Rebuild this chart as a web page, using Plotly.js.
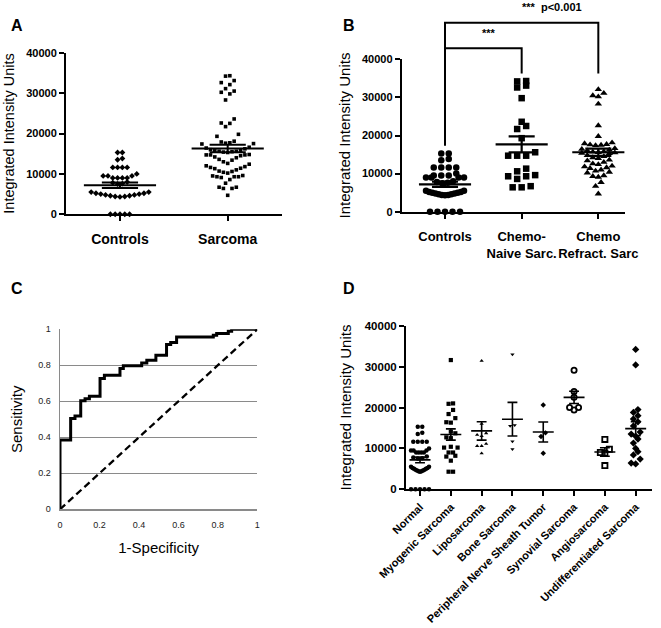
<!DOCTYPE html>
<html><head><meta charset="utf-8">
<script src="https://cdn.plot.ly/plotly-3.0.1.min.js"></script>
<style>html,body{margin:0;padding:0;background:#fff}</style>
</head><body>
<div id="chart" style="width:661px;height:628px"></div>
<script>
// ---------------- DATA ----------------
const groupLabelsA = ['Controls', 'Sarcoma'];
const groupLabelsB = ['Controls', 'Chemo-<br>Naive Sarc.', 'Chemo<br>Refract. Sarc'];
const subtypeLabels = ['Normal', 'Myogenic Sarcoma', 'Liposarcoma', 'Bone Sarcoma',
  'Peripheral Nerve Sheath Tumor', 'Synovial Sarcoma', 'Angiosarcoma', 'Undifferentiated Sarcoma'];

const controls = [15300, 15300, 13800, 13500, 11600, 11600, 11600, 11600, 10000, 9500, 9500, 9500,
  9000, 9000, 9000, 9000, 8000, 7800, 7600, 7500, 5500, 5500, 5200, 5200, 5000, 5000, 4800, 4800,
  4600, 4600, 4400, 4400, 4300, 0, 0, 0, 0, 0];
const chemoNaive = [34300, 34200, 33100, 32600, 29800, 23600, 22500, 21700, 19300, 15600, 14700,
  14700, 14700, 11300, 10600, 9600, 9300, 9300, 8600, 6700, 6400, 6400];
const chemoRefract = [32100, 31100, 30500, 30200, 28300, 22600, 19800, 18100, 17900, 17700, 17600,
  17500, 17400, 16600, 16400, 16200, 16000, 15800, 15700, 15600, 15500, 15400, 15300, 14800, 14500,
  14200, 14000, 13600, 13400, 13000, 12600, 12400, 12000, 11800, 11600, 11400, 11000, 10700, 10400,
  10200, 9500, 9300, 9100, 7700, 6700, 4700];
const sarcoma = chemoNaive.concat(chemoRefract);

const myogenic = [31600, 21000, 20900, 19400, 18400, 17400, 16400, 16300, 14100, 13700, 12700, 12500,
  10400, 10200, 10200, 9000, 9000, 8200, 8000, 7000, 4300, 4300];
const liposarcoma = [31400, 16000, 13700, 13300, 13000, 11100, 10600, 10600, 8800];
const boneSarcoma = [33000, 15700, 15500, 11700, 9800];
const pnst = [20600, 13800, 12900, 8800];
const synovial = [29100, 23900, 22500, 20000, 20000, 19400];
const angiosarcoma = [12200, 9800, 9000, 8800, 5800];
const undifferentiated = [34200, 30400, 19500, 18800, 18000, 17200, 16500, 15500, 14000, 13500, 13000,
  12300, 11300, 10000, 9200, 8400, 7400, 6400, 6200];

const fpr = [0, 0, 0.054, 0.076, 0.105, 0.127, 0.149, 0.203, 0.225, 0.304, 0.321, 0.414, 0.44, 0.486,
  0.54, 0.561, 0.591, 0.777, 0.794, 0.853, 0.87, 1];
const tpr = [0, 0.385, 0.505, 0.518, 0.603, 0.614, 0.628, 0.727, 0.745, 0.782, 0.797, 0.813, 0.828,
  0.856, 0.915, 0.926, 0.957, 0.967, 0.976, 0.989, 1, 1];
const chanceX = [0, 1];
const chanceY = [0, 1];

const yTicks = [0, 10000, 20000, 30000, 40000];
const rocTicks = [0, 0.2, 0.4, 0.6, 0.8, 1];

// ---------------- LAYOUT GEOMETRY ----------------
const W = 661, H = 628;
const F = 'Liberation Sans, Arial, Helvetica, sans-serif';
const px = v => v / W;
const py = v => 1 - v / H;

const dom = {
  A: {x: [px(66), px(282)], y: [py(214.3), py(52.7)], xr: [-0.501, 1.504]},
  B: {x: [px(401.7), px(625)], y: [py(211.7), py(59.3)], xr: [-0.565, 2.348]},
  C: {x: [px(60), px(257.3)], y: [py(509.3), py(329.3)]},
  D: {x: [px(406), px(651.7)], y: [py(489.3), py(325.7)], xr: [-0.455, 7.52]}
};
const yMax = 40000;

function scales(d) {
  return {
    xPerPx: (d.xr[1] - d.xr[0]) / ((d.x[1] - d.x[0]) * W),
    yPerPx: yMax / ((d.y[1] - d.y[0]) * H)
  };
}

// Column scatter layout: bin values into rows, spread each row from the centre outwards
function swarm(vals, center, sc, binPx, stepPx, maxHalfPx) {
  const order = vals.map((v, i) => i).sort((a, b) => vals[a] - vals[b]);
  const xs = new Array(vals.length);
  let row = [], start = null;
  const flush = () => {
    const n = row.length;
    if (!n) return;
    let step = stepPx;
    if ((n - 1) * step / 2 > maxHalfPx) step = 2 * maxHalfPx / (n - 1);
    row.forEach((k, j) => {
      let slot;
      if (n % 2) slot = j === 0 ? 0 : (j % 2 ? -1 : 1) * Math.ceil(j / 2);
      else slot = (j % 2 ? 1 : -1) * (Math.floor(j / 2) + 0.5);
      xs[k] = center + slot * step * sc.xPerPx;
    });
    row = [];
  };
  order.forEach(k => {
    if (start === null || vals[k] - start > binPx * sc.yPerPx) { flush(); start = vals[k]; }
    row.push(k);
  });
  flush();
  return xs;
}

function meanSem(v) {
  const n = v.length;
  const m = v.reduce((a, b) => a + b, 0) / n;
  const sd = Math.sqrt(v.reduce((a, b) => a + (b - m) * (b - m), 0) / (n - 1));
  return [m, sd / Math.sqrt(n)];
}

function summaryTrace(groups, xa, ya, halfMean, halfCap, width) {
  const x = [], y = [];
  groups.forEach((g, i) => {
    const [m, s] = meanSem(g);
    x.push(i - halfMean, i + halfMean, null, i, i, null, i - halfCap, i + halfCap, null, i - halfCap, i + halfCap, null);
    y.push(m, m, null, m - s, m + s, null, m + s, m + s, null, m - s, m - s, null);
  });
  return {type: 'scatter', mode: 'lines', x, y, xaxis: xa, yaxis: ya,
    line: {color: '#000', width}, hoverinfo: 'skip', showlegend: false};
}

function dots(vals, center, sc, xa, ya, marker, binPx, stepPx, maxHalfPx) {
  return {type: 'scatter', mode: 'markers', x: swarm(vals, center, sc, binPx, stepPx, maxHalfPx), y: vals,
    xaxis: xa, yaxis: ya, marker, cliponaxis: false, hoverinfo: 'skip', showlegend: false};
}

const scA = scales(dom.A), scB = scales(dom.B), scD = scales(dom.D);
const traces = [];

// Panel A
traces.push(dots(controls, 0, scA, 'x', 'y', {symbol: 'diamond', size: 4.5, color: '#000'}, 6, 4.8, 32));
traces.push(dots(sarcoma, 1, scA, 'x', 'y', {symbol: 'square', size: 3.6, color: '#000'}, 9, 4.3, 32));
traces.push(summaryTrace([controls, sarcoma], 'x', 'y', 0.335, 0.168, 2));

// Panel B
traces.push(dots(controls, 0, scB, 'x2', 'y2', {symbol: 'circle', size: 6.5, color: '#000'}, 6, 7.5, 19));
traces.push(dots(chemoNaive, 1, scB, 'x2', 'y2', {symbol: 'square', size: 6.5, color: '#000'}, 6, 9, 19));
traces.push(dots(chemoRefract, 2, scB, 'x2', 'y2', {symbol: 'triangle-up', size: 6.5, color: '#000'}, 6, 5.5, 21));
traces.push(summaryTrace([controls, chemoNaive, chemoRefract], 'x2', 'y2', 0.34, 0.17, 2.2));

// Panel B significance brackets (overlay axis y5 extends B's value scale upwards)
const legLow = 36300, innerLevel = 42900, outerLevel = 49600;
const ctrlLeg = Math.max(...controls) + 2000;
traces.push({type: 'scatter', mode: 'lines', xaxis: 'x2', yaxis: 'y5',
  x: [0, 0, 2, 2, null, 0, 1, 1],
  y: [ctrlLeg, outerLevel, outerLevel, legLow, null, innerLevel, innerLevel, legLow],
  line: {color: '#000', width: 2}, hoverinfo: 'skip', showlegend: false});

// Panel C
traces.push({type: 'scatter', mode: 'lines', x: chanceX, y: chanceY, xaxis: 'x3', yaxis: 'y3',
  line: {color: '#000', width: 2.3, dash: '7px,4px'}, hoverinfo: 'skip', showlegend: false});
traces.push({type: 'scatter', mode: 'lines', x: fpr, y: tpr, xaxis: 'x3', yaxis: 'y3',
  line: {color: '#000', width: 3, shape: 'hv'}, hoverinfo: 'skip', showlegend: false});

// Panel D
const dGroups = [controls, myogenic, liposarcoma, boneSarcoma, pnst, synovial, angiosarcoma, undifferentiated];
const dMarkers = [
  {symbol: 'circle', size: 4.5, color: '#000'},
  {symbol: 'square', size: 4.2, color: '#000'},
  {symbol: 'triangle-up', size: 3.8, color: '#000'},
  {symbol: 'triangle-down', size: 3.8, color: '#000'},
  {symbol: 'diamond', size: 4.2, color: '#000'},
  {symbol: 'circle-open', size: 5.2, color: '#000', line: {width: 1.8, color: '#000'}},
  {symbol: 'square-open', size: 5.2, color: '#000', line: {width: 1.8, color: '#000'}},
  {symbol: 'diamond', size: 5.6, color: '#000'}
];
dGroups.forEach((g, i) => traces.push(dots(g, i, scD, 'x4', 'y4', dMarkers[i], 5, 4.5, 9)));
traces.push(summaryTrace(dGroups, 'x4', 'y4', 0.34, 0.16, 1.6));

// ---------------- AXES ----------------
function valueAxis(d, anchor, tickSize, titleSize, standoff) {
  return {domain: d.y, range: [0, yMax], anchor, tickvals: yTicks, tickformat: 'd',
    ticks: 'outside', ticklen: 5, tickwidth: 2, tickcolor: '#000',
    showline: true, linewidth: 2, linecolor: '#000', showgrid: false, zeroline: false,
    tickfont: {family: F, size: tickSize, weight: 'bold', color: '#000'},
    title: {text: 'Integrated Intensity Units', font: {family: F, size: titleSize, color: '#000'}, standoff},
    fixedrange: true};
}
function catAxis(d, anchor, labels, size, extra) {
  return Object.assign({domain: d.x, range: d.xr, anchor, tickvals: labels.map((l, i) => i), ticktext: labels,
    ticks: 'outside', ticklen: 5, tickwidth: 2, tickcolor: '#000',
    showline: true, linewidth: 2, linecolor: '#000', showgrid: false, zeroline: false,
    tickfont: {family: F, size, weight: 'bold', color: '#000'}, fixedrange: true}, extra || {});
}

const layout = {
  width: W, height: H,
  margin: {l: 0, r: 0, t: 0, b: 0},
  paper_bgcolor: '#fff', plot_bgcolor: 'rgba(0,0,0,0)',
  showlegend: false,
  font: {family: F, color: '#000'},
  xaxis: catAxis(dom.A, 'y', groupLabelsA, 14, {tickangle: 0, ticklabelstandoff: 6}),
  yaxis: valueAxis(dom.A, 'x', 11, 14.5, 8),
  xaxis2: catAxis(dom.B, 'y2', groupLabelsB, 13, {tickangle: 0, ticklabelstandoff: 7}),
  yaxis2: valueAxis(dom.B, 'x2', 11, 15, 8),
  yaxis5: {domain: [dom.B.y[0], 1], range: [0, yMax * (1 - dom.B.y[0]) / (dom.B.y[1] - dom.B.y[0])],
    anchor: 'x2', visible: false, fixedrange: true},
  xaxis3: {domain: dom.C.x, range: [0, 1], anchor: 'y3', tickvals: rocTicks, ticks: '',
    showline: true, linecolor: '#8a8a8a', linewidth: 1.5, showgrid: false, zeroline: false,
    ticklabelstandoff: 6, tickfont: {family: F, size: 9, color: '#222'},
    title: {text: '1-Specificity', font: {family: F, size: 15, color: '#000'}, standoff: 14}, fixedrange: true},
  yaxis3: {domain: dom.C.y, range: [0, 1], anchor: 'x3', tickvals: rocTicks, ticks: '',
    showline: true, linecolor: '#8a8a8a', linewidth: 1.5, showgrid: true, gridcolor: '#8a8a8a', gridwidth: 1.2,
    zeroline: false, ticklabelstandoff: 6, tickfont: {family: F, size: 9, color: '#222'},
    title: {text: 'Sensitivity', font: {family: F, size: 15, color: '#000'}, standoff: 12}, fixedrange: true},
  xaxis4: catAxis(dom.D, 'y4', subtypeLabels, 11, {tickangle: -45}),
  yaxis4: valueAxis(dom.D, 'x4', 11.5, 15, 9),
  annotations: [
    {text: '<b>A</b>', x: px(9), y: py(15), xref: 'paper', yref: 'paper', showarrow: false, font: {family: F, size: 16}},
    {text: '<b>B</b>', x: px(349), y: py(15), xref: 'paper', yref: 'paper', showarrow: false, font: {family: F, size: 16}},
    {text: '<b>C</b>', x: px(9), y: py(288), xref: 'paper', yref: 'paper', showarrow: false, font: {family: F, size: 16}},
    {text: '<b>D</b>', x: px(349), y: py(288), xref: 'paper', yref: 'paper', showarrow: false, font: {family: F, size: 16}},
    {text: '<b>***</b>', x: 0.574, y: 46900, xref: 'x2', yref: 'y5', showarrow: false, font: {family: F, size: 11}},
    {text: '<b>***  p<0.001</b>', x: 1.395, y: 53700, xref: 'x2', yref: 'y5', showarrow: false, font: {family: F, size: 11}}
  ]
};

Plotly.newPlot('chart', traces, layout, {displayModeBar: false, staticPlot: true});
</script>
</body></html>
